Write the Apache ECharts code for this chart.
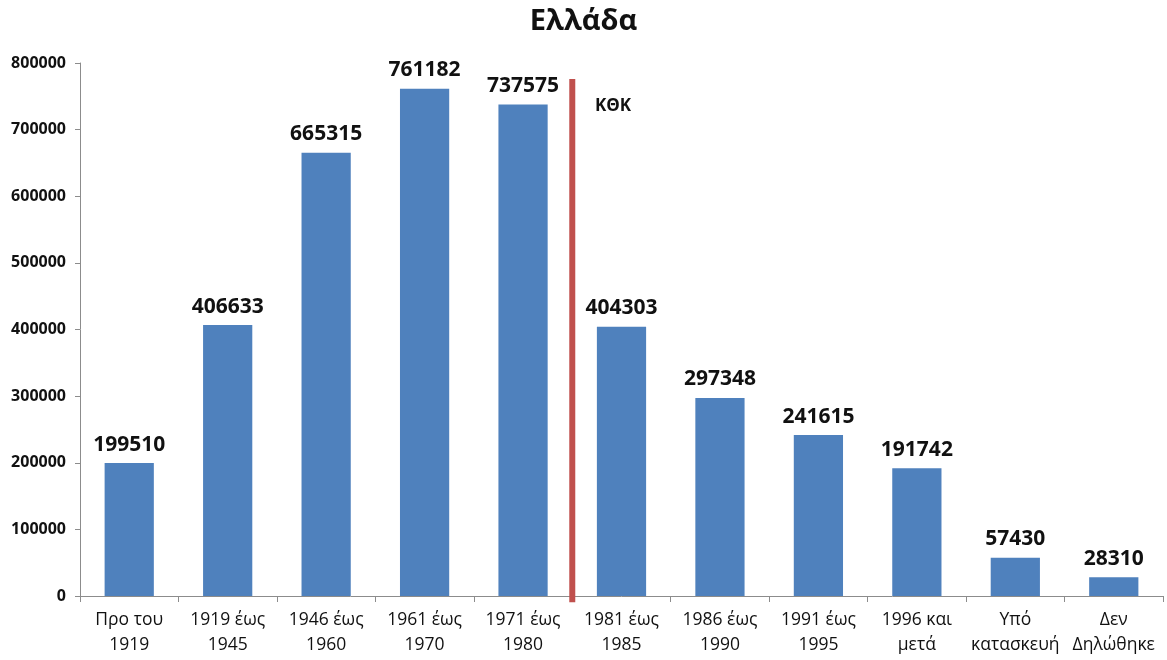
<!DOCTYPE html>
<html>
<head>
<meta charset="utf-8">
<script src="https://cdn.jsdelivr.net/npm/echarts@6/dist/echarts.min.js"></script>
<style>
  html, body { margin: 0; padding: 0; background: #fff; }
  #chart { width: 1167px; height: 660px; }
</style>
</head>
<body>
<div id="chart"></div>
<script>
// Building periods (two-line labels)
const categories = [
  'Προ του\n1919', '1919 έως\n1945', '1946 έως\n1960', '1961 έως\n1970', '1971 έως\n1980',
  '1981 έως\n1985', '1986 έως\n1990', '1991 έως\n1995', '1996 και\nμετά',
  'Υπό\nκατασκευή', 'Δεν\nΔηλώθηκε'
];
// Number of buildings per period
const values = [199510, 406633, 665315, 761182, 737575, 404303, 297348, 241615, 191742, 57430, 28310];
// Regulation divider (ΚΘΚ) between 1980 and 1981, spanning below the axis to the top
const dividerX = [5, 5];
const dividerY = [-9500, 776000];

const FONT = '"Open Sans", "DejaVu Sans", sans-serif';

const chart = echarts.init(document.getElementById('chart'));
chart.setOption({
  animation: false,
  title: {
    text: 'Ελλάδα',
    left: 'center',
    top: 2,
    textStyle: { fontFamily: FONT, fontSize: 29, fontWeight: 'bold', color: '#111' }
  },
  grid: { left: 80, right: 4, top: 63, bottom: 64, containLabel: false },
  xAxis: [
    {
      type: 'category',
      data: categories,
      axisLine: { lineStyle: { color: '#8c8c8c', width: 1 } },
      axisTick: { show: true, alignWithLabel: false, length: 6, lineStyle: { color: '#8c8c8c' } },
      axisLabel: {
        interval: 0, margin: 12, color: '#111', fontFamily: FONT, fontSize: 17.5, lineHeight: 25
      }
    },
    {
      type: 'value', min: 0, max: 11, show: false
    }
  ],
  yAxis: {
    type: 'value',
    min: 0, max: 800000, interval: 100000,
    splitLine: { show: false },
    axisLine: { show: true, lineStyle: { color: '#8c8c8c', width: 1 } },
    axisTick: { show: true, length: 5, lineStyle: { color: '#8c8c8c' } },
    axisLabel: {
      color: '#111', fontFamily: FONT, fontSize: 16, fontWeight: 'bold', margin: 14,
      formatter: v => String(v)
    }
  },
  series: [
    {
      type: 'bar',
      data: values,
      barWidth: '50%',
      itemStyle: { color: '#4f81bd' },
      label: {
        show: true, position: 'top', distance: 8,
        fontFamily: FONT, fontSize: 21, fontWeight: 'bold', color: '#111'
      }
    },
    {
      type: 'line',
      xAxisIndex: 1,
      data: dividerX.map((x, i) => [x, dividerY[i]]),
      symbol: 'none',
      clip: false,
      lineStyle: { color: '#c0504d', width: 6, cap: 'butt' },
      silent: true,
      z: 5
    }
  ],
  graphic: [
    {
      type: 'text',
      left: 595, top: 98,
      style: { text: 'ΚΘΚ', font: 'bold 17px ' + FONT, fill: '#111' }
    }
  ]
});
</script>
</body>
</html>
